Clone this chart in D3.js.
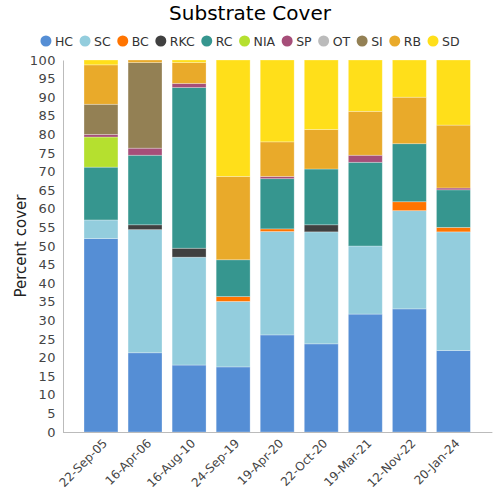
<!DOCTYPE html>
<html><head><meta charset="utf-8">
<script src="https://cdn.jsdelivr.net/npm/d3@7"></script>
<style>body{margin:0;background:#fff}svg{display:block;font-family:"DejaVu Sans",sans-serif}</style>
</head><body><svg id="c" width="500" height="500"></svg>
<script>
const dates = ["22-Sep-05","16-Apr-06","16-Aug-10","24-Sep-19","19-Apr-20","22-Oct-20","19-Mar-21","12-Nov-22","20-Jan-24"];
const seriesNames = ["HC","SC","BC","RKC","RC","NIA","SP","OT","SI","RB","SD"];
const seriesColors = ["#558ed5","#93cddd","#ff7400","#404040","#36968f","#b5e02f","#a64e79","#bbbbbb","#938054","#e9aa2a","#ffdf1a"];
const HC  = [52.0,21.3,18.0,17.5,26.1,23.7,31.7,33.1,21.9];
const SC  = [5.0,33.1,29.0,17.6,27.8,30.1,18.3,26.4,31.9];
const BC  = [0,0,0,1.3,0.7,0,0,2.4,1.2];
const RKC = [0,1.3,2.4,0,0,1.9,0,0,0];
const RC  = [14.2,18.7,43.2,9.9,13.5,15.0,22.5,15.6,10.1];
const NIA = [8.1,0,0,0,0,0,0,0,0];
const SP  = [0.7,1.9,1.1,0,0.6,0,1.9,0,0.5];
const OT  = [0,0,0,0,0,0,0,0,0];
const SI  = [8.1,23.0,0,0,0,0,0,0,0];
const RB  = [10.6,0.7,5.6,22.4,9.3,10.6,11.8,12.5,16.9];
const SD  = [1.3,0,0.7,31.3,22.0,18.7,13.8,10.0,17.5];
const yTicks = d3.range(0,101,5);

const seriesValues = [HC,SC,BC,RKC,RC,NIA,SP,OT,SI,RB,SD];
const rows = dates.map((d,i)=>{const r={date:d}; seriesNames.forEach((s,j)=>r[s]=seriesValues[j][i]); return r;});
const stack = d3.stack().keys(seriesNames)(rows);

const svg = d3.select("#c");
const m = {l:63, r:491.4, t:60, b:432};
const x = d3.scaleBand().domain(dates).range([m.l,m.r]).paddingInner(0.23).paddingOuter(0.477);
const y = d3.scaleLinear().domain([0,100]).range([m.b,m.t]);
const color = d3.scaleOrdinal().domain(seriesNames).range(seriesColors);

svg.append("text").attr("x",250).attr("y",20).attr("text-anchor","middle")
  .attr("font-size",20).attr("fill","#000").text("Substrate Cover");

// legend
const lg = svg.append("g");
let lx = 0;
seriesNames.forEach(s=>{
  const g = lg.append("g").attr("transform",`translate(${lx},0)`);
  g.append("circle").attr("cx",0).attr("cy",41).attr("r",5.5).attr("fill",color(s));
  const t = g.append("text").attr("x",9).attr("y",45.5).attr("font-size",12.5).attr("fill","#333").text(s);
  lx += 9 + t.node().getComputedTextLength() + 12;
});
const lw = lx - 12 + 5.5;
lg.attr("transform",`translate(${250 - lw/2 + 5.5},0)`);

// bars
svg.append("g").selectAll("g").data(stack).join("g").attr("fill",d=>color(d.key))
  .selectAll("rect").data(d=>d.filter(p=>p[1]-p[0]>0)).join("rect")
  .attr("x",d=>x(d.data.date)).attr("width",x.bandwidth())
  .attr("y",d=>y(d[1])).attr("height",d=>y(d[0])-y(d[1]))
  .attr("stroke","#fff").attr("stroke-opacity",0.35).attr("stroke-width",0.8);

// y axis
const ya = svg.append("g").attr("transform",`translate(${m.l},0)`)
  .call(d3.axisLeft(y).tickValues(yTicks).tickSize(0).tickPadding(7));
ya.select(".domain").attr("stroke","#bbb");
ya.selectAll("text").attr("font-size",13).attr("fill","#444").attr("font-family","DejaVu Sans").attr("letter-spacing",0.5);

// x axis
const xa = svg.append("g").attr("transform",`translate(0,${m.b})`)
  .call(d3.axisBottom(x).tickSize(0).tickFormat(d=>d));
xa.select(".domain").attr("stroke","#bbb").attr("d",`M${m.l},0.5H${m.r+1}`);
xa.selectAll("text").attr("font-size",12).attr("fill","#444").attr("font-family","DejaVu Sans")
  .attr("text-anchor","end").attr("dy",0).attr("y",0)
  .attr("transform","translate(7,12) rotate(-45)");

svg.append("text").attr("transform","translate(26,246) rotate(-90)").attr("text-anchor","middle")
  .attr("font-size",15).attr("fill","#222").text("Percent cover");
</script></body></html>
